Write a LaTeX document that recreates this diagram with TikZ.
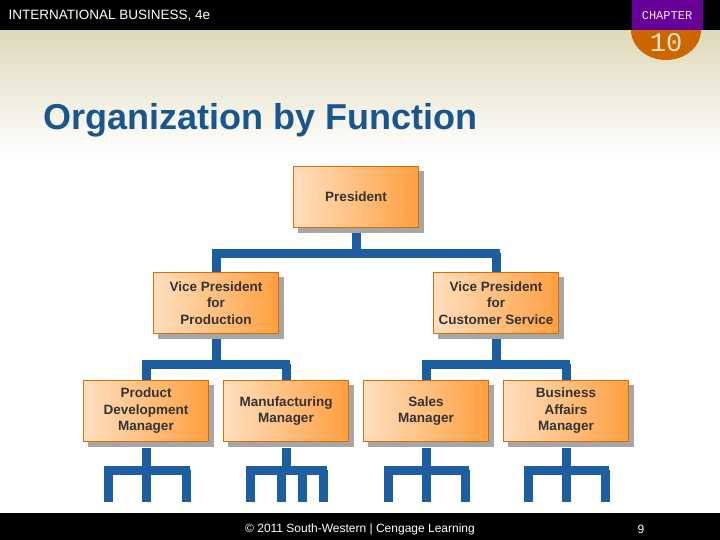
\documentclass[tikz,border=0pt]{standalone}
\usepackage{fontspec}
\setmainfont{Liberation Sans}
\newfontfamily\monof{Liberation Mono}
\definecolor{lnk}{HTML}{1C5EA0}
\definecolor{beige}{RGB}{222,217,185}
\definecolor{chorange}{RGB}{204,102,0}
\definecolor{chpurple}{RGB}{102,0,153}
\definecolor{numcol}{RGB}{240,225,200}
\definecolor{titlecol}{RGB}{24,86,140}
\begin{document}
\begin{tikzpicture}[x=1pt,y=-1pt,
  orgbox/.style={draw=orange!85!black,line width=1.5pt,left color=orange!25,right color=orange!75,minimum width=125pt,minimum height=61pt,inner sep=1pt,align=center,font=\bfseries\fontsize{13.5}{16.5}\selectfont,text=black!80},
  shad/.style={fill=black!35},
  conn/.style={draw=lnk,line width=9pt},
  foot/.style={text=white,font=\fontsize{12}{14}\selectfont}]
\useasboundingbox (0,0) rectangle (720,540);
\fill[white] (0,0) rectangle (720,540);
\shade[top color=beige,bottom color=white] (0,30) rectangle (720,155);
\fill[black] (0,0) rectangle (720,30);
\node[anchor=west,text=white,font=\fontsize{13.5}{16}\selectfont] (hdr) at (5,16) {INTERNATIONAL BUSINESS, 4e};
\fill[chorange] (701,30) arc[start angle=0,end angle=180,x radius=35,y radius=30];
\fill[chpurple] (632,0) rectangle (703,30);
\node[text=white!90!purple,font=\monof\fontsize{12}{14}\selectfont] (chap) at (667,16) {CHAPTER};
\node[text=numcol,font=\monof\fontsize{27}{30}\selectfont] (num) at (666,43) {10};
\node[anchor=west,text=titlecol,font=\bfseries\fontsize{36}{40}\selectfont] (title) at (40,120) {Organization by Function};
% connectors
\draw[conn] (356,230) -- (356,253);
\draw[conn] (212,253) -- (500,253);
\draw[conn] (216,253) -- (216,272) (496,253) -- (496,272);
\draw[conn] (216,337) -- (216,364) (496,337) -- (496,364);
\draw[conn] (142,364) -- (290,364) (422,364) -- (570,364);
\foreach \x in {146,286,426,566} \draw[conn] (\x,364) -- (\x,380);
% bottom legs
\foreach \c/\l/\r in {146/108/186,426/388/465,566/528/605}{
  \draw[conn] (\c,448) -- (\c,502);
  \draw[conn] (\l-4,470) -- (\r+4,470);
  \draw[conn] (\l,470) -- (\l,502) (\r,470) -- (\r,502);}
\draw[conn] (286,448) -- (286,470);
\draw[conn] (246,470) -- (327,470);
\foreach \x in {250,281,302,323} \draw[conn] (\x,470) -- (\x,502);
% boxes
\foreach \x/\y in {356/197,216/303,496/303,146/411,286/411,426/411,566/411}
  \fill[shad] (\x-58,\y-26) rectangle (\x+68,\y+36);
\node[orgbox] (p) at (356,197) {President};
\node[orgbox] (v1) at (216,303) {Vice President\\for\\Production};
\node[orgbox] (v2) at (496,303) {Vice President\\for\\Customer Service};
\node[orgbox] (b1) at (146,411) {Product\\Development\\Manager};
\node[orgbox] (b2) at (286,411) {Manufacturing\\Manager};
\node[orgbox] (b3) at (426,411) {Sales\\Manager};
\node[orgbox] (b4) at (566,411) {Business\\Affairs\\Manager};
\fill[black] (0,513) rectangle (720,540);
\node[foot] (copy) at (360,529) {© 2011 South-Western | Cengage Learning};
\node[foot] (pg) at (641,529) {9};
\end{tikzpicture}
\end{document}
